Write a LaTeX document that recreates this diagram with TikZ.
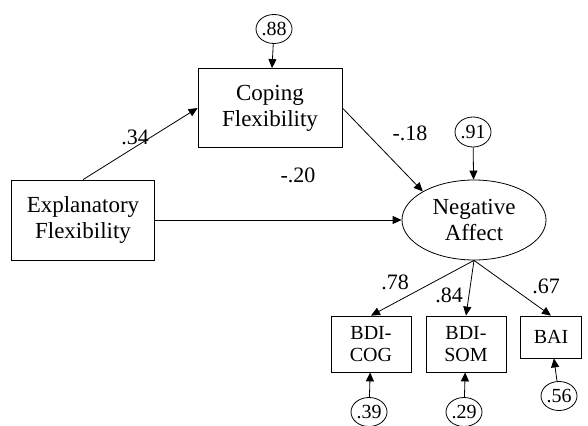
\documentclass[tikz,border=0pt]{standalone}
\usepackage{fontspec}
\setmainfont{Liberation Serif}
\usetikzlibrary{arrows.meta,positioning,shapes.geometric}
\tikzset{
varbox/.style={draw, thick, align=center, inner sep=2pt, font=\fontsize{23}{26}\selectfont},
indbox/.style={draw, thick, align=center, inner sep=2pt, font=\fontsize{20}{22}\selectfont},
latentnode/.style={draw, thick, ellipse, align=center, inner sep=0pt, minimum width=144pt, minimum height=80pt, font=\fontsize{23}{26}\selectfont},
errnode/.style={draw, thick, ellipse, inner sep=0pt, minimum width=36pt, minimum height=29pt, font=\fontsize{20}{22}\selectfont},
pathlabel/.style={font=\fontsize{22}{24}\selectfont},
patharrow/.style={-{Triangle[length=9pt,width=8pt]}, thick}
}
\begin{document}
\begin{tikzpicture}[x=1pt,y=-1pt]
\useasboundingbox[fill=white] (0,0) rectangle (588,425);

% observed and latent variables
\node[varbox, minimum width=144pt, minimum height=79pt] (cf) at (270,108) {Coping\\Flexibility};
\node[varbox, minimum width=143pt, minimum height=80pt] (ef) at (83,220) {Explanatory\\Flexibility};
\node[latentnode] (na) at (474,220) {Negative\\Affect};
\node[indbox, minimum width=80pt, minimum height=56pt] (cog) at (371,344) {BDI-\\COG};
\node[indbox, minimum width=80pt, minimum height=56pt] (som) at (466,344) {BDI-\\SOM};
\node[indbox, minimum width=61pt, minimum height=42pt] (bai) at (551,337) {BAI};

% error terms
\node[errnode] (e1) at (274,29) {.88};
\node[errnode, minimum height=30pt] (e2) at (473,132) {.91};
\node[errnode] (e3) at (369,412) {.39};
\node[errnode] (e4) at (464,412) {.29};
\node[errnode] (e5) at (559,396) {.56};

% structural paths
\draw[patharrow] (ef.north) -- (cf.west);
\draw[patharrow] (ef.east) -- (na.west);
\draw[patharrow] (cf.east) -- (na.north west);
\draw[patharrow] (e1) -- (cf);
\draw[patharrow] (e2) -- (na);

% measurement paths
\draw[patharrow] (na.south) -- (cog.north);
\draw[patharrow] (na.south) -- (som.north);
\draw[patharrow] (na.south) -- (bai.north);
\draw[patharrow] (e3) -- (cog);
\draw[patharrow] (e4) -- (som);
\draw[patharrow] (e5) -- (bai);

% coefficients
\node[pathlabel] (l1) at (135,137) {.34};
\node[pathlabel] (l2) at (298,175) {-.20};
\node[pathlabel] (l3) at (410,133) {-.18};
\node[pathlabel] (l4) at (395,282) {.78};
\node[pathlabel] (l5) at (449,295) {.84};
\node[pathlabel] (l6) at (546,286) {.67};
\end{tikzpicture}
\end{document}
